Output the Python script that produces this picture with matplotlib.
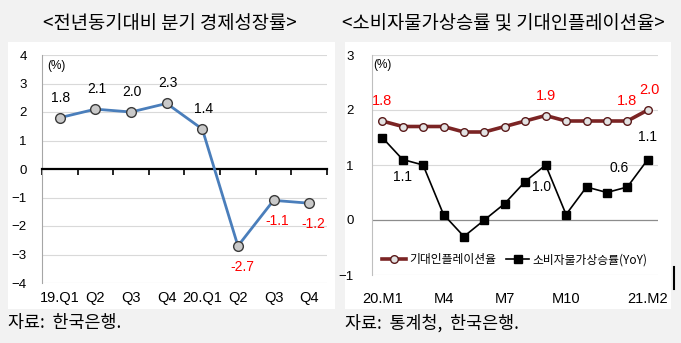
import matplotlib.pyplot as plt
import matplotlib.lines as mlines
import matplotlib.patches as mpatches
import numpy as np

plt.rcParams['font.family'] = ['Liberation Sans', 'Noto Sans CJK KR', 'DejaVu Sans']

# quarterly GDP growth (YoY, %)
gdp_labels = ['19.Q1', 'Q2', 'Q3', 'Q4', '20.Q1', 'Q2', 'Q3', 'Q4']
gdp_values = [1.8, 2.1, 2.0, 2.3, 1.4, -2.7, -1.1, -1.2]

# monthly, 2020.1 ~ 2021.2
months = ['20.M1', 'M2', 'M3', 'M4', 'M5', 'M6', 'M7', 'M8', 'M9', 'M10',
          'M11', 'M12', '21.M1', '21.M2']
month_ticks = ['20.M1', 'M4', 'M7', 'M10', '21.M2']
expected_infl = [1.8, 1.7, 1.7, 1.7, 1.6, 1.6, 1.7, 1.8, 1.9, 1.8, 1.8, 1.8, 1.8, 2.0]
cpi_yoy = [1.5, 1.1, 1.0, 0.1, -0.3, 0.0, 0.3, 0.7, 1.0, 0.1, 0.6, 0.5, 0.6, 1.1]

W, H = 681, 343
fig = plt.figure(figsize=(W / 100, H / 100), dpi=100)
fig.patch.set_facecolor('#f2f2f2')


def px_axes(x0, y0, x1, y1, **kw):
    return fig.add_axes([x0 / W, 1 - y1 / H, (x1 - x0) / W, (y1 - y0) / H], **kw)


def px(x, y):
    return x / W, 1 - y / H


# white panels behind each chart
for x0, x1 in [(8, 335), (345, 671)]:
    fig.add_artist(mpatches.Rectangle(px(x0, 309), (x1 - x0) / W, 267 / H,
                                      transform=fig.transFigure,
                                      facecolor='white', edgecolor='none', zorder=0))

kr = 'Noto Sans CJK KR'
narrow = ['Liberation Sans Narrow', 'Liberation Sans']
fig.text(*px(170, 24), '<전년동기대비 분기 경제성장률>', family=kr, fontsize=13.5,
         ha='center', va='center')
fig.text(*px(503, 24), '<소비자물가상승률 및 기대인플레이션율>', family=kr, fontsize=13.5,
         ha='center', va='center')
fig.text(*px(8, 323), '자료:  한국은행.', family=kr, fontsize=12.5, ha='left', va='center')
fig.text(*px(345, 323), '자료:  통계청,  한국은행.', family=kr, fontsize=12.5,
         ha='left', va='center')

grid_c = '#d9d9d9'


def label(ax, text, xy, dx, dy, color='black', size=10):
    # dx, dy in pixels from the marker to the text centre
    ax.annotate(text, xy, xytext=(dx * 0.72, dy * 0.72), textcoords='offset points',
                ha='center', va='center', fontsize=size, color=color)


# ---- left: GDP growth ----
ax1 = px_axes(42, 55, 327, 283)
x1 = np.arange(len(gdp_values))
ax1.set_xlim(-0.5, len(gdp_values) - 0.5)
ax1.set_ylim(-4, 4)
ax1.set_yticks(range(-4, 5))
for y in range(-4, 5):
    if y != 0:
        ax1.axhline(y, color=grid_c, lw=0.8, zorder=0)
for s in ['top', 'right']:
    ax1.spines[s].set_visible(False)
ax1.spines['left'].set_color('#a6a6a6')
ax1.spines['bottom'].set_position(('data', 0))
ax1.spines['bottom'].set_color('black')
ax1.spines['bottom'].set_linewidth(1.6)
ax1.set_xticks(np.arange(-0.5, len(gdp_values), 1))
ax1.tick_params(axis='x', length=4, width=1.2, labelbottom=False)
ax1.tick_params(axis='y', length=0, labelsize=9.5, pad=11)
sec1 = ax1.secondary_xaxis('bottom')
sec1.spines['bottom'].set_visible(False)
sec1.set_xticks(x1, gdp_labels, family=narrow)
sec1.tick_params(length=0, labelsize=10.5, pad=6)

ax1.plot(x1, gdp_values, color='#4a7ebb', lw=2, marker='o', ms=7,
         mfc='#c9c9c9', mec='#3a3a3a', mew=1, zorder=3)
for i, v in enumerate(gdp_values):
    if v >= 0:
        label(ax1, f'{v:.1f}', (i, v), 1, 20)
    else:
        label(ax1, f'{v:.1f}', (i, v), 4, -21, color='red')
ax1.text(-0.35, 3.6, '(%)', fontsize=8.5, ha='left', va='center')

# ---- right: CPI and expected inflation ----
ax2 = px_axes(372, 55, 658, 275)
x2 = np.arange(len(months))
ax2.set_xlim(-0.5, len(months) - 0.5)
ax2.set_ylim(-1, 3)
ax2.set_yticks(range(-1, 4))
for y in range(-1, 4):
    if y != 0:
        ax2.axhline(y, color=grid_c, lw=0.8, zorder=0)
ax2.axhline(0, color='#8c8c8c', lw=0.9, zorder=0)
for s in ['top', 'right', 'bottom']:
    ax2.spines[s].set_visible(False)
ax2.spines['left'].set_color('#bfbfbf')
ax2.set_xticks([months.index(m) for m in month_ticks], month_ticks, family=narrow)
ax2.tick_params(axis='x', length=0, labelsize=10.5, pad=12)
ax2.tick_params(axis='y', length=0, labelsize=9.5, pad=13)

ax2.plot(x2, expected_infl, color='#7b2424', lw=2.6, marker='o', ms=5.5,
         mfc='#e3e3e3', mec='#5a1a1a', mew=1, zorder=3, label='기대인플레이션율')
ax2.plot(x2, cpi_yoy, color='black', lw=1.2, marker='s', ms=5.5,
         zorder=3, label='소비자물가상승률(YoY)')

for i, dx in [(0, 0), (8, 0), (12, 0), (13, 2)]:
    label(ax2, f'{expected_infl[i]:.1f}', (i, expected_infl[i]), dx, 20,
          color='red', size=10.5)
label(ax2, f'{cpi_yoy[1]:.1f}', (1, cpi_yoy[1]), 0, -18)
label(ax2, f'{cpi_yoy[8]:.1f}', (8, cpi_yoy[8]), -4, -22)
label(ax2, f'{cpi_yoy[12]:.1f}', (12, cpi_yoy[12]), -8, 19)
label(ax2, f'{cpi_yoy[13]:.1f}', (13, cpi_yoy[13]), 0, 22)
ax2.text(-0.45, 2.82, '(%)', fontsize=8.5, ha='left', va='center')

leg = ax2.legend(loc='center', bbox_to_anchor=(0.5, 15 / 220), ncol=2,
                 frameon=False, handlelength=2.0, handletextpad=0.3,
                 columnspacing=0.8, prop={'family': kr, 'size': 8.5})

# stray stroke at right edge of the page
fig.add_artist(mlines.Line2D([674 / W, 674 / W], [1 - 267 / H, 1 - 289 / H],
                             transform=fig.transFigure, color='black', lw=1.5))

fig.savefig('out.png', dpi=100, facecolor=fig.get_facecolor())
